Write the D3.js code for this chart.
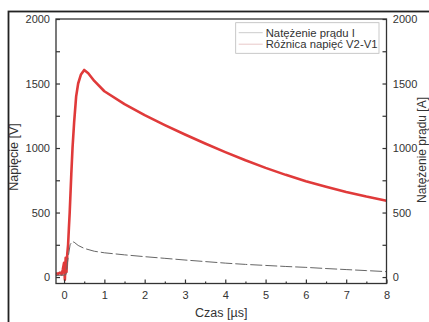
<!DOCTYPE html>
<html>
<head>
<meta charset="utf-8">
<script src="https://cdn.jsdelivr.net/npm/d3@7"></script>
<style>
  body { margin: 0; background: #fff; }
  text { font-family: "Liberation Sans", Arial, sans-serif; fill: #333; }
</style>
</head>
<body>
<div id="chart"></div>
<script>
// time axis values [µs] and series
var voltTime = [-0.2, -0.15, -0.1, -0.06, -0.03, 0, 0.02, 0.04, 0.06, 0.08, 0.1, 0.12, 0.14, 0.18, 0.21, 0.25, 0.3, 0.35, 0.42, 0.5,
    0.6, 0.75, 1, 1.5, 2, 2.5, 3, 3.5, 4, 4.5, 5, 5.5, 6, 6.5, 7, 7.5, 8];
var voltValues = [30, 25, 35, 20, 60, 110, -20, 150, 40, 180, 250, 380, 500, 800, 1000, 1200, 1400, 1500, 1570, 1605,
    1580, 1520, 1440, 1340, 1255, 1178, 1105, 1035, 968, 905, 846, 792, 743, 700, 660, 624, 592];

var currTime = [-0.2, -0.1, 0, 0.05, 0.1, 0.15, 0.2, 0.25, 0.35, 0.5, 0.75, 1, 1.5, 2, 2.5, 3, 3.5, 4, 4.5, 5, 5.5, 6, 6.5, 7, 7.5, 8];
var currValues = [12, 14, 15, 20, 150, 250, 275, 270, 245, 222, 200, 188, 172, 158, 145, 132, 120, 108, 98, 90, 82, 75, 66, 58, 50, 42];

var xTicks = [0, 1, 2, 3, 4, 5, 6, 7, 8];
var yTicks = [0, 500, 1000, 1500, 2000];

var legendLabels = ["Natężenie prądu I", "Różnica napięć V2-V1"];
var xTitle = "Czas [µs]";
var yTitleLeft = "Napięcie [V]";
var yTitleRight = "Natężenie prądu [A]";

var width = 429, height = 322;
var margin = { top: 19, right: 42.5, bottom: 38.5, left: 56 };
var w = width - margin.left - margin.right,
    h = height - margin.top - margin.bottom;

var svg = d3.select("#chart").append("svg")
    .attr("width", width)
    .attr("height", height);

// outer frame of the figure
svg.append("rect")
    .attr("x", 8.5).attr("y", 11.5)
    .attr("width", 440).attr("height", 340)
    .attr("fill", "none")
    .attr("stroke", "#222")
    .attr("stroke-width", 1.8);

var g = svg.append("g")
    .attr("transform", "translate(" + margin.left + "," + margin.top + ")");

var x = d3.scaleLinear().domain([-0.2, 8]).range([0, w]);
var y = d3.scaleLinear().domain([-50, 2000]).range([h, 0]);

var volt = voltTime.map(function(t, i) { return { t: t, v: voltValues[i] }; });
var curr = currTime.map(function(t, i) { return { t: t, v: currValues[i] }; });

var line = d3.line()
    .x(function(d) { return x(d.t); })
    .y(function(d) { return y(d.v); });

g.append("path")
    .datum(volt)
    .attr("d", line)
    .attr("fill", "none")
    .attr("stroke", "#e03a3a")
    .attr("stroke-width", 2.6)
    .attr("stroke-linejoin", "round");

g.append("path")
    .datum(curr)
    .attr("d", line)
    .attr("fill", "none")
    .attr("stroke", "#666")
    .attr("stroke-width", 1)
    .attr("stroke-dasharray", "12,3");

// axes (ticks pointing inward)
function styleAxis(sel) {
    sel.select(".domain").remove();
    sel.selectAll("line").attr("stroke", "#333").attr("stroke-width", 1.2);
    sel.selectAll("text").attr("font-size", "11px").attr("fill", "#333");
}

var fmt = d3.format("d");

g.append("g")
    .attr("transform", "translate(0," + h + ")")
    .call(d3.axisBottom(x).tickValues(xTicks).tickSize(-4).tickPadding(7.7).tickFormat(fmt))
    .call(styleAxis);

g.append("g")
    .attr("transform", "translate(0," + h + ")")
    .call(d3.axisBottom(x).tickValues(xTicks.slice(0, -1).map(function(d) { return d + 0.5; }))
        .tickSize(-2).tickFormat(""))
    .call(styleAxis);

g.append("g")
    .call(d3.axisLeft(y).tickValues(yTicks).tickSize(-4).tickPadding(6).tickFormat(fmt))
    .call(styleAxis);

g.append("g")
    .call(d3.axisLeft(y).tickValues(yTicks.slice(0, -1).map(function(d) { return d + 250; }))
        .tickSize(-4).tickFormat(""))
    .call(styleAxis);

g.append("g")
    .attr("transform", "translate(" + w + ",0)")
    .call(d3.axisRight(y).tickValues(yTicks).tickSize(-4).tickPadding(6.3).tickFormat(fmt))
    .call(styleAxis);

g.append("g")
    .attr("transform", "translate(" + w + ",0)")
    .call(d3.axisRight(y).tickValues(yTicks.slice(0, -1).map(function(d) { return d + 250; }))
        .tickSize(-4).tickFormat(""))
    .call(styleAxis);

// plot frame
g.append("rect")
    .attr("width", w).attr("height", h)
    .attr("fill", "none")
    .attr("stroke", "#333")
    .attr("stroke-width", 1.3);

// axis titles
svg.append("text")
    .attr("x", margin.left + w / 2)
    .attr("y", 317)
    .attr("text-anchor", "middle")
    .attr("font-size", "12.5px")
    .attr("fill", "#222")
    .text(xTitle);

svg.append("text")
    .attr("transform", "translate(18,157) rotate(-90)")
    .attr("text-anchor", "middle")
    .attr("font-size", "12.5px")
    .attr("fill", "#222")
    .text(yTitleLeft);

svg.append("text")
    .attr("transform", "translate(426,150) rotate(-90)")
    .attr("text-anchor", "middle")
    .attr("font-size", "12px")
    .attr("fill", "#222")
    .text(yTitleRight);

// legend
var legend = svg.append("g").attr("transform", "translate(235.7,22.7)");
legend.append("rect")
    .attr("width", 143.3).attr("height", 30.6)
    .attr("fill", "#fff")
    .attr("stroke", "#bbb")
    .attr("stroke-width", 0.8);

legendLabels.forEach(function(label, i) {
    var ly = 10 + i * 11.5;
    legend.append("line")
        .attr("x1", 3).attr("x2", 27)
        .attr("y1", ly).attr("y2", ly)
        .attr("stroke", i === 0 ? "#ccc" : "#e8c8c8")
        .attr("stroke-width", 1);
    legend.append("text")
        .attr("x", 30)
        .attr("y", ly + 4)
        .attr("font-size", "11.3px")
        .attr("fill", "#222")
        .text(label);
});
</script>
</body>
</html>
